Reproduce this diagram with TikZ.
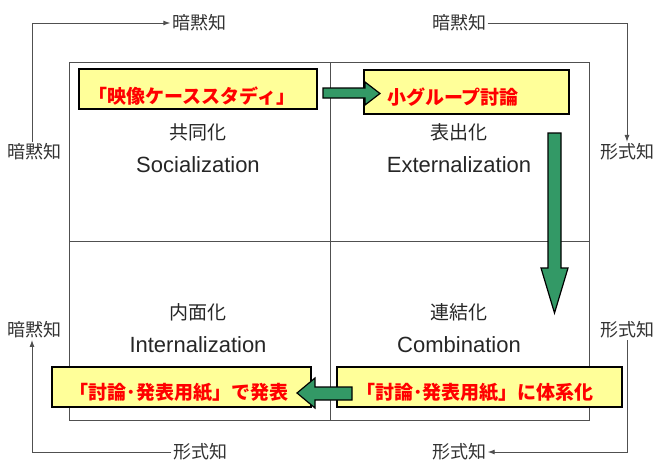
\documentclass[tikz,border=0pt]{standalone}
\usepackage{fontspec}
\setmainfont{Liberation Sans}
\newfontfamily\jp{Noto Sans CJK JP}
\usetikzlibrary{arrows.meta}
\definecolor{boxyellow}{HTML}{FFFF99}
\definecolor{arrgreen}{HTML}{339966}
\definecolor{txtred}{HTML}{FF0000}
\definecolor{linegray}{HTML}{505050}
\begin{document}
\begin{tikzpicture}[x=1pt,y=-1pt,
  frame/.style={draw=linegray, line width=1pt},
  conn/.style={draw=linegray, line width=0.9pt, -{Latex[length=7pt,width=5pt]}},
  outlabel/.style={font=\jp\fontsize{18}{18}\selectfont, text=black!80, inner sep=1.5pt},
  quadjp/.style={font=\jp\fontsize{19}{19}\selectfont, text=black!85, inner sep=0pt},
  quaden/.style={font=\fontsize{22}{22}\selectfont, text=black!85, inner sep=0pt},
  ybox/.style={draw=black, line width=1.3pt, fill=boxyellow, inner sep=0pt},
  redtxt/.style={font=\jp\bfseries\fontsize{19}{19}\selectfont, text=txtred, inner sep=0pt},
  garrow/.style={draw=black, line width=1.2pt, fill=arrgreen, line join=miter}
]
\useasboundingbox (0,0) rectangle (656,464);
% frame
\draw[frame] (69,62) rectangle (589,420);
\draw[frame] (330,62) -- (330,420);
\draw[frame] (69,241) -- (589,241);
% quadrant labels
\node[quadjp] (q1j) at (198,132) {共同化};
\node[quaden] (q1e) at (198,165) {Socialization};
\node[quadjp] (q2j) at (459,132) {表出化};
\node[quaden] (q2e) at (459,165) {Externalization};
\node[quadjp] (q3j) at (198,312) {内面化};
\node[quaden] (q3e) at (198,345) {Internalization};
\node[quadjp] (q4j) at (459,312) {連結化};
\node[quaden] (q4e) at (459,345) {Combination};
% outer labels
\node[outlabel] (t1) at (199,23) {暗黙知};
\node[outlabel] (t2) at (459,23) {暗黙知};
\node[outlabel] (l1) at (35,152) {暗黙知};
\node[outlabel] (l2) at (35,330) {暗黙知};
\node[outlabel] (r1) at (627,152) {形式知};
\node[outlabel] (r2) at (627,330) {形式知};
\node[outlabel] (d1) at (200,452) {形式知};
\node[outlabel] (d2) at (459,452) {形式知};
% outer connectors
\draw[conn] ([xshift=-3pt]l1.north) |- (t1.west);
\draw[conn] (t2.east) -| (r1.north);
\draw[conn] (r2.south) |- (d2.east);
\draw[conn] (d1.west) -| ([xshift=-3pt]l2.south);
% yellow boxes
\node[ybox, minimum width=238pt, minimum height=40pt] (y1) at (198,89) {};
\node[ybox, minimum width=205pt, minimum height=44pt] (y2) at (466.5,92) {};
\node[ybox, minimum width=259pt, minimum height=40pt] (y3) at (181.5,387) {};
\node[ybox, minimum width=285pt, minimum height=40pt] (y4) at (479.5,387) {};
% green block arrows
\draw[garrow] (323,88) -- (365,88) -- (365,82) -- (380,93.5) -- (365,105) -- (365,98) -- (323,98) -- cycle;
\draw[garrow] (548,133) -- (561,133) -- (561,268) -- (568,268) -- (554.5,313) -- (541,268) -- (548,268) -- cycle;
\draw[garrow] (352,387) -- (315,387) -- (315,378) -- (297,393) -- (315,408) -- (315,400) -- (352,400) -- cycle;
% red texts
\node[redtxt] (r1t) at (192,96) {「映像ケーススタディ」};
\node[redtxt] (r2t) at (453,97) {小グループ討論};
\node[redtxt] (r3t) at (179,393) {「討論･発表用紙」で発表};
\node[redtxt] (r4t) at (475,393) {「討論･発表用紙」に体系化};
\end{tikzpicture}
\end{document}
